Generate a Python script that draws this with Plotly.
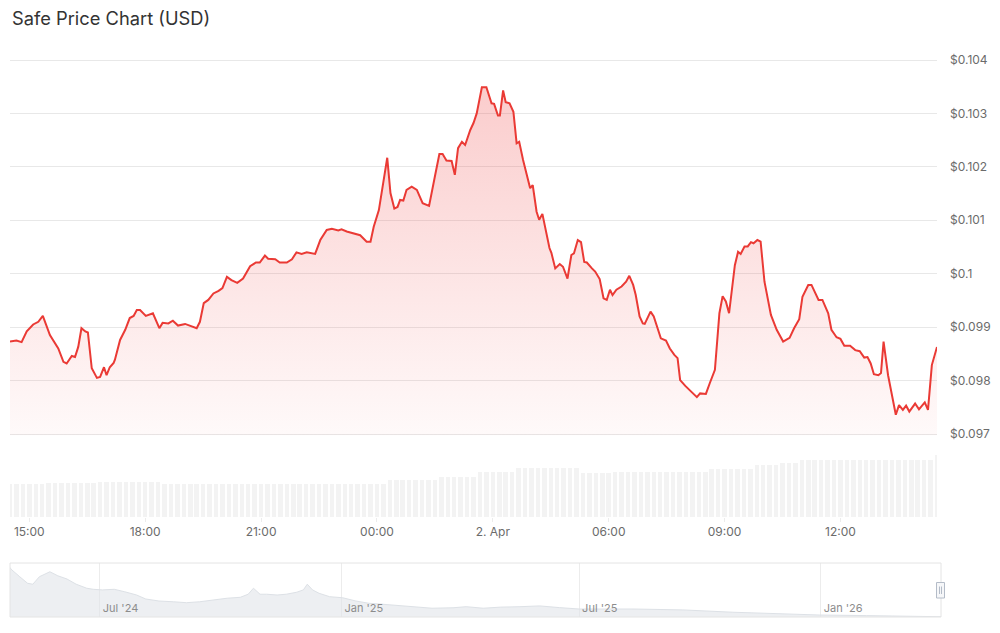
import datetime as dt
import plotly.graph_objects as go

# ---------------- data ----------------
title_text = "Safe Price Chart (USD)"

# price (USD), 1 Apr 2026 14:30 -> 2 Apr 2026 14:30 (HH:MM, day rolls over at midnight)
price_times = [
    "14:30", "14:40", "14:48", "14:56", "15:06", "15:14", "15:21", "15:32", "15:45", "15:53",
    "15:58", "16:06", "16:11", "16:16", "16:21", "16:27", "16:31", "16:37", "16:45", "16:50",
    "16:56", "17:00", "17:05", "17:11", "17:13", "17:21", "17:29", "17:36", "17:42", "17:47",
    "17:52", "18:01", "18:12", "18:22", "18:27", "18:36", "18:43", "18:51", "19:02", "19:12",
    "19:20", "19:25", "19:31", "19:38", "19:46", "19:54", "20:00", "20:07", "20:14", "20:23",
    "20:32", "20:43", "20:52", "20:58", "21:06", "21:11", "21:22", "21:29", "21:40", "21:48",
    "21:55", "22:03", "22:11", "22:24", "22:32", "22:42", "22:50", "23:00", "23:05", "23:13",
    "23:23", "23:34", "23:44", "23:50", "23:55", "00:03", "00:10", "00:16", "00:21", "00:27",
    "00:32", "00:36", "00:41", "00:46", "00:54", "01:02", "01:11", "01:21", "01:30", "01:37",
    "01:42", "01:48", "01:56", "02:01", "02:06", "02:12", "02:17", "02:25", "02:30", "02:35",
    "02:43", "02:50", "02:58", "03:02", "03:08", "03:11", "03:16", "03:20", "03:26", "03:32",
    "03:37", "03:41", "03:47", "03:58", "04:02", "04:08", "04:12", "04:17", "04:28", "04:31",
    "04:37", "04:44", "04:49", "04:56", "05:02", "05:06", "05:12", "05:17", "05:22", "05:26",
    "05:34", "05:39", "05:46", "05:52", "05:57", "06:02", "06:06", "06:12", "06:20", "06:27",
    "06:32", "06:38", "06:42", "06:48", "06:53", "06:56", "07:05", "07:10", "07:21", "07:29",
    "07:35", "07:42", "07:47", "07:51", "07:59", "08:06", "08:14", "08:17", "08:22", "08:31",
    "08:37", "08:45", "08:52", "08:57", "09:02", "09:07", "09:16", "09:21", "09:25", "09:31",
    "09:36", "09:41", "09:45", "09:51", "09:56", "10:02", "10:12", "10:21", "10:31", "10:41",
    "10:48", "10:56", "11:01", "11:10", "11:15", "11:26", "11:32", "11:41", "11:46", "11:54",
    "12:00", "12:06", "12:15", "12:23", "12:30", "12:37", "12:42", "12:47", "12:52", "12:59",
    "13:03", "13:07", "13:14", "13:21", "13:26", "13:31", "13:37", "13:42", "13:47", "13:56",
    "14:02", "14:11", "14:16", "14:22", "14:30",
]
price_values = [
    0.09873, 0.09875, 0.09872, 0.09892, 0.09905, 0.09910, 0.09921, 0.09885, 0.09860, 0.09835,
    0.09832, 0.09846, 0.09844, 0.09863, 0.09898, 0.09892, 0.09890, 0.09823, 0.09805, 0.09807,
    0.09825, 0.09810, 0.09825, 0.09833, 0.09839, 0.09876, 0.09895, 0.09917, 0.09921, 0.09932,
    0.09932, 0.09921, 0.09926, 0.09898, 0.09908, 0.09907, 0.09912, 0.09903, 0.09906, 0.09902,
    0.09898, 0.09910, 0.09945, 0.09951, 0.09963, 0.09968, 0.09973, 0.09994, 0.09988, 0.09983,
    0.09991, 0.10014, 0.10021, 0.10021, 0.10034, 0.10028, 0.10027, 0.10021, 0.10021, 0.10027,
    0.10040, 0.10037, 0.10040, 0.10037, 0.10063, 0.10082, 0.10084, 0.10081, 0.10083, 0.10079,
    0.10076, 0.10072, 0.10060, 0.10060, 0.10088, 0.10119, 0.10172, 0.10217, 0.10151, 0.10122,
    0.10125, 0.10138, 0.10137, 0.10157, 0.10163, 0.10157, 0.10132, 0.10127, 0.10182, 0.10224,
    0.10224, 0.10212, 0.10211, 0.10185, 0.10235, 0.10247, 0.10241, 0.10269, 0.10282, 0.10300,
    0.10349, 0.10349, 0.10319, 0.10318, 0.10296, 0.10296, 0.10343, 0.10321, 0.10319, 0.10303,
    0.10244, 0.10247, 0.10213, 0.10160, 0.10166, 0.10116, 0.10101, 0.10112, 0.10048, 0.10039,
    0.10010, 0.10018, 0.10013, 0.09991, 0.10035, 0.10038, 0.10063, 0.10059, 0.10022, 0.10021,
    0.10010, 0.10004, 0.09990, 0.09954, 0.09951, 0.09970, 0.09960, 0.09970, 0.09976, 0.09985,
    0.09996, 0.09979, 0.09960, 0.09920, 0.09907, 0.09906, 0.09929, 0.09920, 0.09879, 0.09875,
    0.09860, 0.09848, 0.09842, 0.09801, 0.09790, 0.09782, 0.09773, 0.09769, 0.09776, 0.09775,
    0.09795, 0.09820, 0.09926, 0.09958, 0.09948, 0.09926, 0.10016, 0.10041, 0.10037, 0.10051,
    0.10051, 0.10059, 0.10057, 0.10063, 0.10060, 0.09985, 0.09923, 0.09895, 0.09873, 0.09880,
    0.09898, 0.09915, 0.09957, 0.09979, 0.09979, 0.09951, 0.09951, 0.09926, 0.09895, 0.09881,
    0.09878, 0.09865, 0.09865, 0.09857, 0.09855, 0.09843, 0.09844, 0.09832, 0.09812, 0.09810,
    0.09814, 0.09873, 0.09810, 0.09764, 0.09736, 0.09754, 0.09745, 0.09753, 0.09742, 0.09757,
    0.09746, 0.09759, 0.09745, 0.09829, 0.09863,
]
assert len(price_times) == len(price_values)

# 24h volume (million USD), one bar every 10 minutes from 1 Apr 14:30
volume_musd = [
    3.3, 3.3, 3.3, 3.3, 3.3, 3.3,
    3.4, 3.4, 3.4, 3.4, 3.4, 3.4, 3.4, 3.4,
    3.5, 3.5, 3.5, 3.5, 3.5, 3.5, 3.5, 3.5, 3.5, 3.5,
    3.3, 3.3, 3.3, 3.3, 3.3, 3.3, 3.3, 3.3, 3.3, 3.3,
    3.3, 3.3, 3.3, 3.3, 3.3, 3.3, 3.3, 3.3, 3.3, 3.3,
    3.3, 3.3, 3.3, 3.3, 3.3, 3.3, 3.3, 3.3, 3.3, 3.3,
    3.3, 3.3, 3.3, 3.3, 3.3,
    3.7, 3.7, 3.7, 3.7, 3.7, 3.7, 3.7, 3.7,
    4.0, 4.0, 4.0, 4.0, 4.0, 4.0,
    4.5, 4.5, 4.5, 4.5, 4.5, 4.5,
    4.9, 4.9, 4.9, 4.9, 4.9, 4.9, 4.9, 4.9, 4.9, 4.9,
    4.4, 4.4, 4.4, 4.4, 4.4,
    4.5, 4.5, 4.5, 4.5, 4.5, 4.5, 4.5, 4.5, 4.5, 4.5, 4.5, 4.5, 4.5, 4.5, 4.5,
    4.8, 4.8, 4.8, 4.8, 4.8, 4.8, 4.8,
    5.2, 5.2, 5.2, 5.2,
    5.4, 5.4, 5.4,
    5.7, 5.7, 5.7, 5.7, 5.7, 5.7, 5.7, 5.7, 5.7, 5.7, 5.7,
    5.7, 5.7, 5.7, 5.7, 5.7, 5.7, 5.7, 5.7, 5.7, 5.7,
    6.2,
]

# navigator: full price history (USD)
nav_dates = [
    "2024-04-23", "2024-04-25", "2024-05-01", "2024-05-07", "2024-05-11", "2024-05-16",
    "2024-05-24", "2024-05-30", "2024-06-06", "2024-06-13", "2024-06-21", "2024-06-26",
    "2024-07-03", "2024-07-12", "2024-07-20", "2024-07-29", "2024-08-05", "2024-08-15",
    "2024-08-26", "2024-09-05", "2024-09-15", "2024-09-25", "2024-10-06", "2024-10-16",
    "2024-10-22", "2024-10-26", "2024-10-31", "2024-11-05", "2024-11-13", "2024-11-20",
    "2024-11-28", "2024-12-03", "2024-12-06", "2024-12-10", "2024-12-15", "2024-12-23",
    "2025-01-02", "2025-01-12", "2025-01-22", "2025-02-01", "2025-02-14", "2025-02-27",
    "2025-03-11", "2025-03-27", "2025-04-06", "2025-04-19", "2025-05-02", "2025-05-17",
    "2025-06-01", "2025-06-16", "2025-07-01", "2025-08-11", "2025-09-18", "2025-10-26",
    "2025-12-03", "2025-12-31", "2026-02-05", "2026-04-02 14:30",
]
nav_values = [
    3.35, 3.14, 2.70, 2.27, 2.21, 2.70,
    3.02, 2.76, 2.55, 2.21, 1.95, 1.88,
    1.84, 1.88, 1.72, 1.51, 1.25, 1.12,
    1.07, 1.01, 1.07, 1.19, 1.30, 1.36,
    1.56, 1.95, 1.56, 1.56, 1.51, 1.56,
    1.69, 1.84, 2.21, 1.84, 1.62, 1.40,
    1.33, 1.12, 0.97, 0.91, 0.82, 0.75,
    0.65, 0.68, 0.75, 0.65, 0.72, 0.75,
    0.80, 0.69, 0.60, 0.60, 0.54, 0.39,
    0.26, 0.21, 0.17, 0.099,
]

price_tickvals = [0.097, 0.098, 0.099, 0.100, 0.101, 0.102, 0.103, 0.104]
price_ticktext = ["$0.097", "$0.098", "$0.099", "$0.1", "$0.101", "$0.102", "$0.103", "$0.104"]

time_tickvals = ["2026-04-01 15:00", "2026-04-01 18:00", "2026-04-01 21:00", "2026-04-02 00:00",
                 "2026-04-02 03:00", "2026-04-02 06:00", "2026-04-02 09:00", "2026-04-02 12:00"]
time_ticktext = ["15:00", "18:00", "21:00", "00:00", "2. Apr", "06:00", "09:00", "12:00"]

nav_tickvals = ["2024-07-01", "2025-01-01", "2025-07-01", "2026-01-01"]
nav_ticktext = ["Jul '24", "Jan '25", "Jul '25", "Jan '26"]

# ---------------- build ----------------
day = dt.date(2026, 4, 1)
price_dt = []
prev = None
for t in price_times:
    hh, mm = map(int, t.split(":"))
    if prev is not None and (hh, mm) < prev:
        day = day + dt.timedelta(days=1)
    prev = (hh, mm)
    price_dt.append(dt.datetime(day.year, day.month, day.day, hh, mm))

start = dt.datetime(2026, 4, 1, 14, 30)
vol_times = [start + dt.timedelta(minutes=10 * i) for i in range(len(volume_musd))]

RED = "#ea3a35"
FONT = "Inter, 'Open Sans', sans-serif"
H = 633.0
W_PLOT = 932.0


def py(px):  # pixel row -> paper fraction
    return 1 - px / H


def pxx(px):  # pixel column -> paper fraction
    return (px - 10) / W_PLOT


# small padding so the top/bottom gridlines are drawn inside the plot area
PAD = 0.000025
PX_PER_UNIT = 374.0 / 0.007
pad_px = PAD * PX_PER_UNIT

fig = go.Figure()

fig.add_trace(go.Bar(
    x=vol_times, y=volume_musd, xaxis="x2", yaxis="y2",
    marker=dict(color="#f3f3f3", line=dict(width=0)), width=7.0 * 60 * 1000,
    hoverinfo="skip",
))

fig.add_trace(go.Scatter(
    x=price_dt, y=price_values, xaxis="x", yaxis="y", mode="lines",
    line=dict(color=RED, width=2),
    fill="tozeroy",
    fillgradient=dict(
        type="vertical",
        colorscale=[[0, "rgba(239,68,68,0.03)"], [1, "rgba(239,68,68,0.27)"]],
        start=0.097, stop=0.1035,
    ),
))

fig.add_trace(go.Scatter(
    x=nav_dates, y=nav_values, xaxis="x3", yaxis="y3", mode="lines",
    line=dict(color="#dde1e6", width=1),
    fill="tozeroy", fillcolor="rgba(225,229,234,0.6)",
    hoverinfo="skip",
))

fig.update_layout(
    width=1000, height=633,
    margin=dict(l=10, r=58, t=0, b=0, autoexpand=False),
    paper_bgcolor="white", plot_bgcolor="white",
    showlegend=False,
    font=dict(family=FONT, size=12, color="#666666"),
    bargap=0,
    xaxis=dict(
        domain=[0, pxx(937)], anchor="y", automargin=False,
        range=[start, start + dt.timedelta(hours=24)],
        showticklabels=False, showgrid=False, zeroline=False, showline=False,
    ),
    yaxis=dict(
        domain=[py(434 + pad_px), py(60 - pad_px)], anchor="x", side="right",
        automargin=False,
        range=[0.097 - PAD, 0.104 + PAD],
        tickvals=price_tickvals, ticktext=price_ticktext,
        showgrid=True, gridcolor="#e8e8e8", gridwidth=1,
        zeroline=False, showline=False, ticks="",
        ticklabelstandoff=12,
        tickfont=dict(size=12, color="#6b6b6b"),
    ),
    xaxis2=dict(
        domain=[0, pxx(937)], anchor="y2", matches="x", automargin=False,
        tickvals=time_tickvals, ticktext=time_ticktext,
        ticks="outside", ticklen=4, tickcolor="#ececec",
        showgrid=False, zeroline=False, showline=False,
        tickfont=dict(size=12, color="#6b6b6b"),
    ),
    yaxis2=dict(
        domain=[py(517), py(445)], anchor="x2", automargin=False,
        range=[0, 7.2], visible=False,
    ),
    xaxis3=dict(
        domain=[0, pxx(941)], anchor="y3", automargin=False,
        range=["2024-04-23 14:30", "2026-04-02 14:30"],
        tickvals=nav_tickvals, ticktext=nav_ticktext,
        ticklabelposition="inside right", ticks="",
        ticklabelstandoff=-3, ticklabelshift=3,
        showgrid=True, gridcolor="#ececec", gridwidth=1,
        zeroline=False, showline=False,
        tickfont=dict(size=11, color="#8c8c8c"),
    ),
    yaxis3=dict(
        domain=[py(617), py(563)], anchor="x3", automargin=False,
        range=[0.08, 3.59], visible=False,
    ),
    shapes=[
        dict(type="rect", xref="x3 domain", yref="y3 domain", x0=0, x1=1, y0=0, y1=1,
             line=dict(color="#e4e4e4", width=1), fillcolor="rgba(0,0,0,0)", layer="above"),
        dict(type="rect", xref="paper", yref="paper",
             x0=pxx(936.5), x1=pxx(944.5), y0=py(598), y1=py(582.5),
             line=dict(color="#b4bcc8", width=1), fillcolor="#f6f7f9", layer="above"),
        dict(type="line", xref="paper", yref="paper",
             x0=pxx(939.5), x1=pxx(939.5), y0=py(594), y1=py(586.5),
             line=dict(color="#b4bcc8", width=1), layer="above"),
        dict(type="line", xref="paper", yref="paper",
             x0=pxx(941.5), x1=pxx(941.5), y0=py(594), y1=py(586.5),
             line=dict(color="#b4bcc8", width=1), layer="above"),
    ],
    annotations=[
        dict(text=title_text, xref="paper", yref="paper", x=0, y=py(18),
             xanchor="left", yanchor="middle", showarrow=False,
             font=dict(family=FONT, size=18.3, color="#333333")),
    ],
)

fig.write_html("out.html")
